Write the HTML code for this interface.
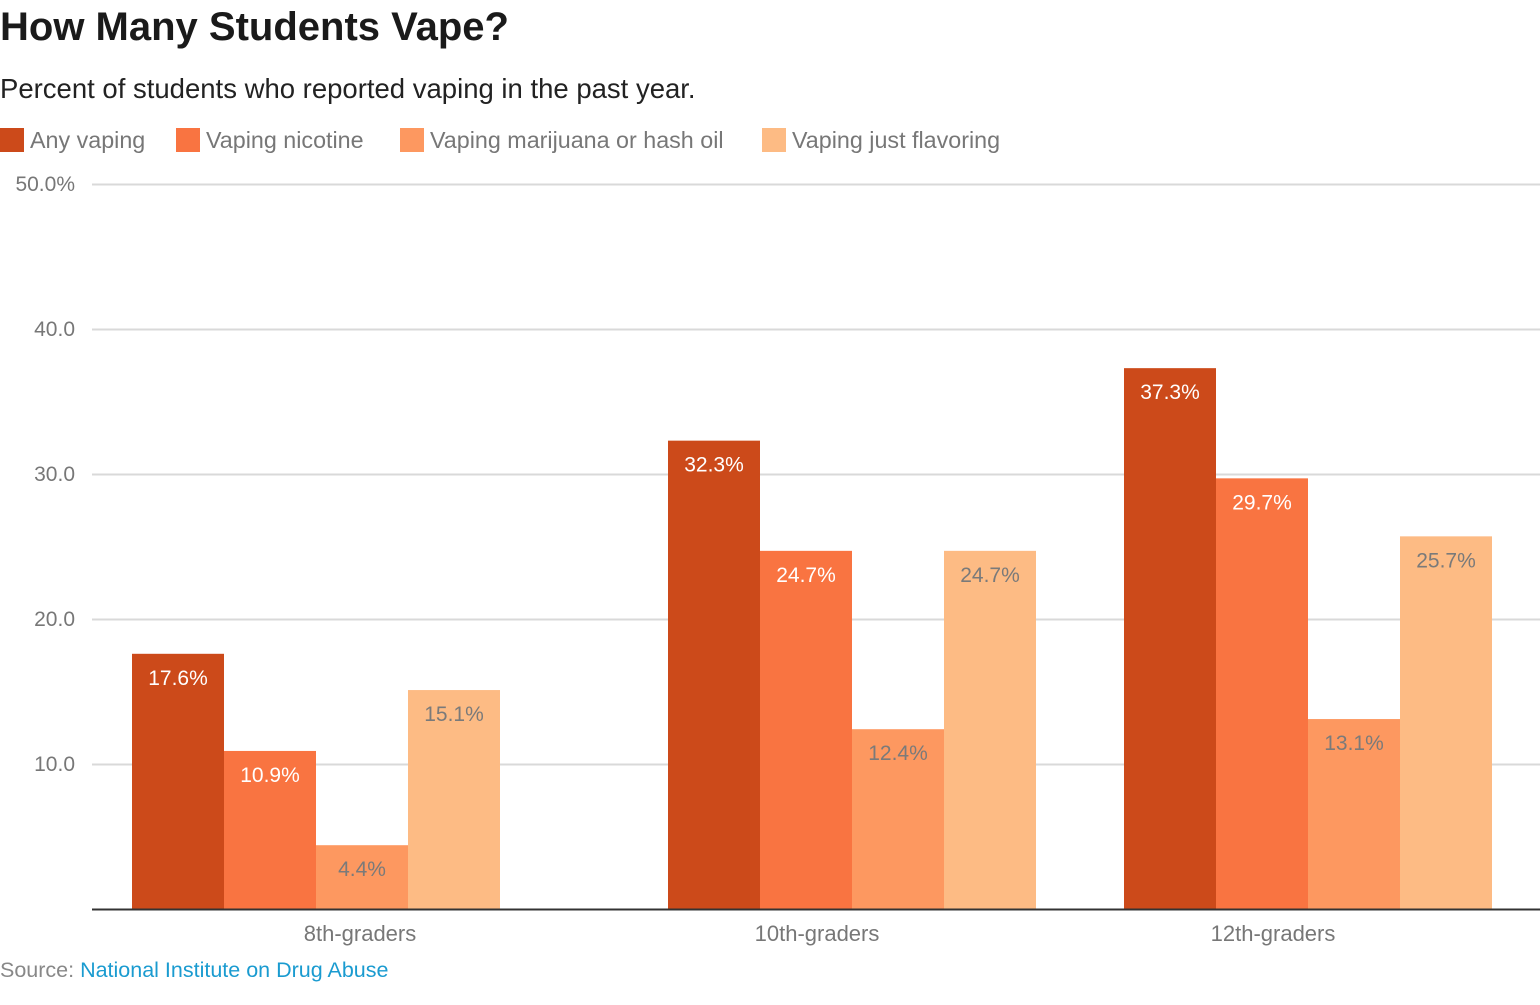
<!DOCTYPE html>
<html><head><meta charset="utf-8"><style>
body{margin:0;width:1540px;height:1000px;background:#fff;font-family:"Liberation Sans",sans-serif;overflow:hidden}
svg text{font-family:"Liberation Sans",sans-serif}
</style></head><body>
<svg width="1540" height="1000">
<text x="0" y="40" font-size="40" font-weight="bold" fill="#1a1a1a">How Many Students Vape?</text>
<text x="0" y="98" font-size="27.5" fill="#222">Percent of students who reported vaping in the past year.</text>
<g id="legend"></g>
<g id="grid"></g>
<g id="bars"></g>
<line x1="92" y1="909.5" x2="1540" y2="909.5" stroke="#333" stroke-width="2"/>
<g id="xlabels"></g>
<text x="0" y="977" font-size="21.5" fill="#888">Source: <tspan fill="#1a9bd0">National Institute on Drug Abuse</tspan></text>
</svg>
<script>
const categories = ["8th-graders","10th-graders","12th-graders"];
const seriesNames = ["Any vaping","Vaping nicotine","Vaping marijuana or hash oil","Vaping just flavoring"];
const anyVaping = [17.6,32.3,37.3];
const nicotine = [10.9,24.7,29.7];
const marijuana = [4.4,12.4,13.1];
const flavoring = [15.1,24.7,25.7];
const yTicks = [10,20,30,40,50];
const yTickLabels = ["10.0","20.0","30.0","40.0","50.0%"];

const series=[anyVaping,nicotine,marijuana,flavoring];
const colors=["#cc4a1a","#f97441","#fd9860","#fdbb84"];
const textColors=["#fff","#fff","#7a7a7a","#7a7a7a"];
const NS="http://www.w3.org/2000/svg";
const y0=909, yTop=184, vMax=50;
function y(v){return y0-(v/vMax)*(y0-yTop);}
const groupStart=[132,668,1124], barW=92, labelX=[360,817,1273];
function mk(tag,attrs,parent,txt){const e=document.createElementNS(NS,tag);for(const k in attrs)e.setAttribute(k,attrs[k]);if(txt!==undefined)e.textContent=txt;parent.appendChild(e);return e;}

const lg=document.getElementById('legend');
const legX=[0,176,400,762];
seriesNames.forEach((n,i)=>{
  const g=mk('g',{},lg);
  
  
  mk('rect',{x:legX[i],y:128,width:24,height:24,fill:colors[i]},g);
  mk('text',{x:legX[i]+30,y:148,'font-size':23.3,fill:'#777'},g,n);
});

const grid=document.getElementById('grid');
yTicks.forEach((t,i)=>{
  const l=mk('line',{x1:92,x2:1540,y1:y(t)+0.5,y2:y(t)+0.5,stroke:'#d9d9d9','stroke-width':2},grid);
  
  
  const tx=mk('text',{x:75,y:y(t)+7,'font-size':21,fill:'#777','text-anchor':'end'},grid,yTickLabels[i]);
  
  
});

const bars=document.getElementById('bars');
categories.forEach((c,ci)=>{
  series.forEach((s,si)=>{
    const x=groupStart[ci]+si*barW, v=s[ci];
    const r=mk('rect',{x:x,y:y(v),width:barW,height:y0-y(v),fill:colors[si]},bars);
    
    
    const t=mk('text',{x:x+barW/2,y:y(v)+31,'font-size':21,fill:textColors[si],'text-anchor':'middle'},bars,v.toFixed(1)+'%');
    
    
  });
  const xl=mk('text',{x:labelX[ci],y:941,'font-size':22,fill:'#777','text-anchor':'middle'},document.getElementById('xlabels'),c);
  
  
});
</script>
</body></html>
